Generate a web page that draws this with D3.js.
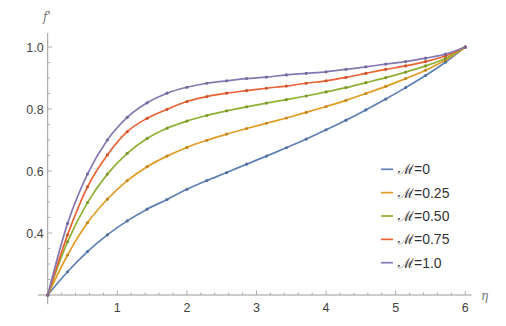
<!DOCTYPE html>
<html><head><meta charset="utf-8">
<script src="https://cdn.jsdelivr.net/npm/d3@7"></script>
<style>
html,body{margin:0;padding:0;background:#fff;}
svg{display:block;font-family:"Liberation Sans",Arial,sans-serif;}
</style></head>
<body>
<svg id="chart" width="506" height="326"></svg>
<script>
// η sample points (mesh points at 2/7 steps from 0 to 6)
const etaValues = d3.range(22).map(k => 6 * k / 21);
const seriesNames = ["ℳ=0", "ℳ=0.25", "ℳ=0.50", "ℳ=0.75", "ℳ=1.0"];
const seriesColors = ["#5E81B5", "#E19C24", "#8FB032", "#EB6235", "#8778B3"];
const fM0   = [0.200,0.275,0.340,0.394,0.439,0.477,0.508,0.541,0.569,0.595,0.622,0.648,0.675,0.703,0.733,0.764,0.797,0.832,0.869,0.908,0.951,1.000];
const fM025 = [0.200,0.329,0.433,0.509,0.569,0.614,0.648,0.676,0.699,0.719,0.737,0.754,0.771,0.789,0.808,0.828,0.850,0.873,0.898,0.925,0.958,1.000];
const fM050 = [0.200,0.372,0.498,0.590,0.657,0.705,0.738,0.761,0.779,0.794,0.807,0.819,0.830,0.842,0.855,0.869,0.885,0.901,0.919,0.939,0.963,1.000];
const fM075 = [0.200,0.394,0.549,0.652,0.727,0.770,0.799,0.824,0.840,0.851,0.859,0.867,0.874,0.883,0.891,0.902,0.915,0.928,0.939,0.953,0.971,1.000];
const fM100 = [0.200,0.431,0.590,0.700,0.773,0.820,0.851,0.870,0.883,0.891,0.898,0.903,0.910,0.915,0.920,0.928,0.936,0.945,0.953,0.964,0.977,1.000];
const seriesValues = [fM0, fM025, fM050, fM075, fM100];
const xTickValues = [1, 2, 3, 4, 5, 6];
const yTickValues = [0.4, 0.6, 0.8, 1.0];

const svg = d3.select("#chart");
const x = d3.scaleLinear().domain([0, 6]).range([47.7, 465.3]);
const y = d3.scaleLinear().domain([0.2, 1.0]).range([295, 47]);
const axisColor = "#9a9a9a";

// axes lines
svg.append("line").attr("x1", x(-0.14)).attr("x2", x(6.09)).attr("y1", y(0.2)).attr("y2", y(0.2))
  .attr("stroke", axisColor).attr("stroke-width", 1);
svg.append("line").attr("x1", x(0)).attr("x2", x(0)).attr("y1", y(1.045)).attr("y2", y(0.17))
  .attr("stroke", axisColor).attr("stroke-width", 1);

// x ticks (inward = upward)
const xMinor = d3.range(1, 31).map(i => i * 0.2).filter(v => v <= 6.05);
xMinor.forEach(v => {
  const major = Math.abs(v - Math.round(v)) < 1e-6;
  svg.append("line").attr("x1", x(v)).attr("x2", x(v))
    .attr("y1", y(0.2)).attr("y2", y(0.2) - (major ? 4.5 : 2.5))
    .attr("stroke", axisColor).attr("stroke-width", 0.8);
});
xTickValues.forEach(v => {
  svg.append("text").attr("x", x(v)).attr("y", y(0.2) + 16.5)
    .attr("text-anchor", "middle").attr("font-size", 12.5).attr("fill", "#444").text(v);
});
// y ticks (inward = rightward)
const yMinor = d3.range(5, 21).map(i => i * 0.05);
yMinor.forEach(v => {
  const major = yTickValues.some(t => Math.abs(t - v) < 1e-6);
  svg.append("line").attr("x1", x(0)).attr("x2", x(0) + (major ? 4.5 : 2.5))
    .attr("y1", y(v)).attr("y2", y(v))
    .attr("stroke", axisColor).attr("stroke-width", 0.8);
});
yTickValues.forEach(v => {
  svg.append("text").attr("x", x(0) - 4).attr("y", y(v) + 4.5)
    .attr("text-anchor", "end").attr("font-size", 12.5).attr("fill", "#444").text(v.toFixed(1));
});

// axis labels
svg.append("text").attr("x", 43).attr("y", 21).attr("font-size", 12).attr("font-style", "italic")
  .attr("fill", "#777").attr("font-family", "'DejaVu Serif',serif").text("f'");
svg.append("text").attr("x", 481).attr("y", 300).attr("font-size", 12).attr("font-style", "italic")
  .attr("fill", "#777").attr("font-family", "'DejaVu Serif',serif").text("η");

// curves
const line = d3.line().x((d, i) => x(etaValues[i])).y(d => y(d)).curve(d3.curveMonotoneX);
seriesValues.forEach((vals, si) => {
  svg.append("path").datum(vals).attr("d", line).attr("fill", "none")
    .attr("stroke", seriesColors[si]).attr("stroke-width", 1.7);
});
seriesValues.forEach((vals, si) => {
  const c = d3.color(seriesColors[si]).darker(0.4);
  svg.selectAll(null).data(vals).enter().append("circle")
    .attr("cx", (d, i) => x(etaValues[i])).attr("cy", d => y(d)).attr("r", 1.6)
    .attr("fill", c);
});

// legend
const legY0 = 169.3, legDY = 23.35;
seriesNames.forEach((n, i) => {
  const yy = legY0 + i * legDY;
  svg.append("line").attr("x1", 381).attr("x2", 393).attr("y1", yy).attr("y2", yy)
    .attr("stroke", seriesColors[i]).attr("stroke-width", 1.7);
  svg.append("text").attr("x", 398).attr("y", yy + 5).attr("font-size", 14)
    .attr("fill", "#333").text(n);
});
</script>
</body></html>
